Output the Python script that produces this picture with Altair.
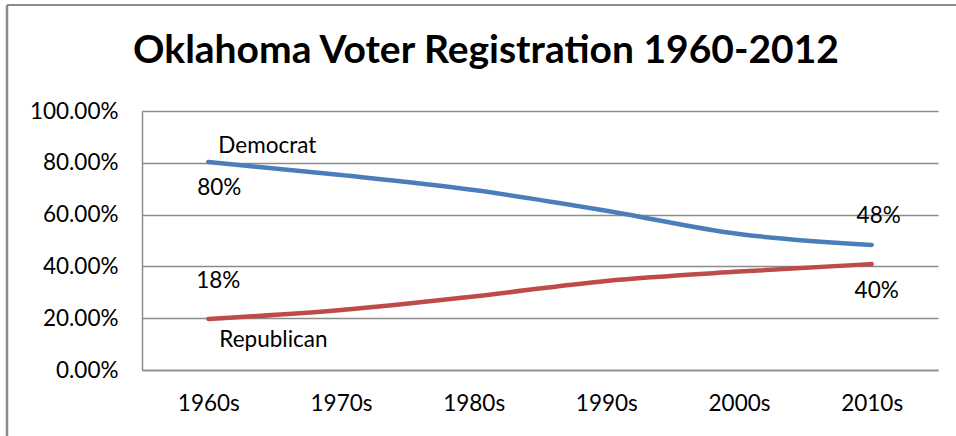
import altair as alt
import pandas as pd

decades = ["1960s", "1970s", "1980s", "1990s", "2000s", "2010s"]
democrat = [0.803, 0.753, 0.695, 0.615, 0.525, 0.483]
republican = [0.197, 0.232, 0.284, 0.344, 0.38, 0.409]
title_text = "Oklahoma Voter Registration 1960-2012"

df = pd.DataFrame({
    "decade": decades * 2,
    "value": democrat + republican,
    "party": ["Democrat"] * len(decades) + ["Republican"] * len(decades),
})

FONT = "Lato"
FS = 22.5
GRID = "#8c8c8c"

x_enc = alt.X("decade:N", sort=decades, title=None,
              scale=alt.Scale(type="point", padding=0.5),
              axis=alt.Axis(labelAngle=0, labelFontSize=FS, labelFont=FONT, labelColor="#000",
                            labelPadding=22, ticks=False, domainColor=GRID, domainWidth=1.5,
                            grid=False))
y_enc = alt.Y("value:Q", title=None,
              scale=alt.Scale(domain=[0, 1]),
              axis=alt.Axis(format=".2%", values=[0, 0.2, 0.4, 0.6, 0.8, 1.0],
                            labelFontSize=FS, labelFont=FONT, labelColor="#000",
                            labelPadding=24, ticks=False, domainColor=GRID, domainWidth=1.5,
                            grid=True, gridColor=GRID, gridWidth=1.5))

base = alt.Chart(df)

lines = base.mark_line(strokeWidth=4.5, interpolate="monotone", strokeCap="round").encode(
    x=x_enc, y=y_enc,
    color=alt.Color("party:N", scale=alt.Scale(domain=["Democrat", "Republican"],
                                               range=["#4a7ebb", "#be4b48"]), legend=None),
)

def label(party, idx, txt, dx, dy, align="center"):
    d = df[(df.party == party) & (df.decade == decades[idx])].assign(txt=txt)
    return alt.Chart(d).mark_text(font=FONT, fontSize=FS, color="#000", align=align,
                                  baseline="middle", dx=dx, dy=dy).encode(
        x=alt.X("decade:N", sort=decades), y="value:Q", text="txt:N")

labels = [
    label("Democrat", 0, "Democrat", 10, -16, "left"),
    label("Democrat", 0, "80%", 11, 26),
    label("Republican", 0, "18%", 10, -38),
    label("Republican", 0, "Republican", 11, 21, "left"),
    label("Democrat", 5, "48%", 7, -29),
    label("Republican", 5, "40%", 5, 27),
]

one = pd.DataFrame({"a": [0]})
border_top = alt.Chart(one).mark_rule(stroke=GRID, strokeWidth=2).encode(
    x=alt.value(-135), x2=alt.value(820), y=alt.value(-106))
border_left = alt.Chart(one).mark_rule(stroke=GRID, strokeWidth=2.5).encode(
    x=alt.value(-135), y=alt.value(-106), y2=alt.value(330))

title = alt.Chart(pd.DataFrame({"t": [title_text]})).mark_text(
    font=FONT, fontSize=39, fontWeight="bold", color="#000",
    align="center", baseline="middle").encode(
    x=alt.value(344), y=alt.value(-60), text="t:N")

chart = alt.layer(border_top, border_left, lines, *labels, title).properties(
    width=796, height=259,
    autosize=alt.AutoSizeParams(type="none"),
    padding={"left": 142, "top": 111, "right": 18, "bottom": 66},
    background="white",
).configure_view(strokeWidth=0, stroke="transparent")

chart.save("out.html", embed_options={"renderer": "svg", "actions": False})
